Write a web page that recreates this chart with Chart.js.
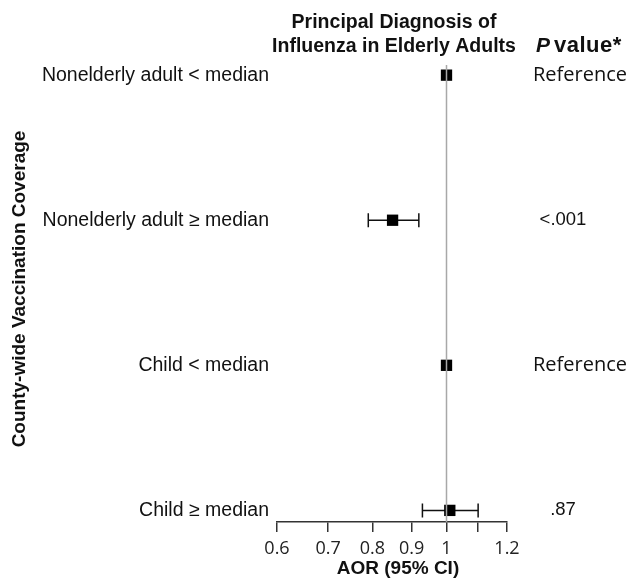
<!DOCTYPE html>
<html><head><meta charset="utf-8">
<script src="https://cdn.jsdelivr.net/npm/chart.js@4"></script>
<style>html,body{margin:0;padding:0;background:#fff}#wrap{width:636px;height:588px}</style>
</head><body><div id="wrap"><canvas id="c" width="636" height="588"></canvas></div>
<script>
const categories = ['Nonelderly adult < median','Nonelderly adult \u2265 median','Child < median','Child \u2265 median'];
const aor = [1.0, 0.85, 1.0, 1.01];
const ciLower = [null, 0.79, null, 0.93];
const ciUpper = [null, 0.92, null, 1.10];
const pValues = ['Reference','<.001','Reference','.87'];
const tickValues = [0.6,0.7,0.8,0.9,1,1.1,1.2];
const tickLabels = ['0.6','0.7','0.8','0.9','1','','1.2'];
const titleLines = ['Principal Diagnosis of','Influenza in Elderly Adults'];
const yTitle = 'County-wide Vaccination Coverage';
const xTitle = 'AOR (95% CI)';
const refValue = 1;

const SANS = '"Liberation Sans", Arial, sans-serif';
const OPEN = '"Open Sans", sans-serif';

const forestPlugin = {
  id: 'forest',
  beforeDatasetsDraw(chart) {
    const {ctx, scales:{x, y}} = chart;
    ctx.save();
    ctx.strokeStyle = '#111';
    ctx.lineWidth = 1.5;
    for (let i = 0; i < aor.length; i++) {
      if (ciLower[i] == null) continue;
      const py = y.getPixelForValue(i);
      const x1 = x.getPixelForValue(ciLower[i]);
      const x2 = x.getPixelForValue(ciUpper[i]);
      ctx.beginPath();
      ctx.moveTo(x1, py); ctx.lineTo(x2, py);
      ctx.moveTo(x1, py - 7); ctx.lineTo(x1, py + 7);
      ctx.moveTo(x2, py - 7); ctx.lineTo(x2, py + 7);
      ctx.stroke();
    }
    ctx.restore();
  },
  afterDatasetsDraw(chart) {
    const {ctx, chartArea, scales:{x}} = chart;
    const px = x.getPixelForValue(refValue);
    ctx.save();
    ctx.strokeStyle = '#a8a8a8';
    ctx.lineWidth = 1.5;
    ctx.beginPath();
    ctx.moveTo(px, chartArea.top); ctx.lineTo(px, chartArea.bottom);
    ctx.stroke();
    ctx.restore();
  },
  afterDraw(chart) {
    const {ctx, chartArea, scales:{y}} = chart;
    ctx.save();
    ctx.fillStyle = '#111';
    // title
    ctx.textAlign = 'center';
    ctx.textBaseline = 'alphabetic';
    ctx.font = 'bold 19.5px ' + SANS;
    const cx = (chartArea.left + chartArea.right) / 2 + 2;
    titleLines.forEach((t, i) => ctx.fillText(t, cx, 28 + i * 24));
    // P value header
    ctx.textAlign = 'left';
    ctx.font = 'italic bold 21px ' + SANS;
    ctx.fillText('P', 536, 52);
    ctx.font = 'bold 22px ' + SANS;
    ctx.letterSpacing = '0.5px';
    ctx.fillText('value*', 554, 52);
    ctx.letterSpacing = '0px';
    // x axis title
    ctx.textAlign = 'center';
    ctx.textBaseline = 'middle';
    ctx.font = 'bold 19px ' + SANS;
    ctx.fillText(xTitle, cx + 4, 569);
    // row labels
    ctx.textAlign = 'right';
    ctx.font = '19.5px ' + SANS;
    categories.forEach((c, i) => ctx.fillText(c, chartArea.left - 8, y.getPixelForValue(i)));
    // p values
    pValues.forEach((p, i) => {
      const py = y.getPixelForValue(i);
      if (p === 'Reference') {
        ctx.textAlign = 'left';
        ctx.font = '20px ' + OPEN;
        ctx.fillText(p, chartArea.right + 26, py);
      } else {
        ctx.textAlign = 'center';
        ctx.font = '18.5px ' + SANS;
        ctx.fillText(p, chartArea.right + 56, py);
      }
    });
    // y title
    ctx.translate(20, 289);
    ctx.rotate(-Math.PI / 2);
    ctx.textAlign = 'center';
    ctx.font = 'bold 19px ' + SANS;
    ctx.fillText(yTitle, 0, 0);
    ctx.restore();
  }
};

new Chart(document.getElementById('c'), {
  type: 'scatter',
  data: {
    datasets: [{
      label: 'AOR',
      data: aor.map((v, i) => ({x: v, y: i})),
      pointStyle: 'rect',
      pointRadius: 8,
      pointHoverRadius: 8,
      backgroundColor: '#000',
      borderColor: '#000',
      borderWidth: 0
    }]
  },
  options: {
    responsive: false,
    animation: false,
    events: [],
    layout: {padding: {left: 277, right: 129, top: 65, bottom: 22.4}},
    plugins: {legend: {display: false}, tooltip: {enabled: false}},
    scales: {
      x: {
        type: 'logarithmic',
        min: 0.6, max: 1.2,
        afterBuildTicks: s => { s.ticks = tickValues.map(v => ({value: v})); },
        ticks: {
          callback: (v, i) => tickLabels[i],
          font: {family: OPEN, size: 18},
          color: '#222', padding: 6, autoSkip: false, maxRotation: 0
        },
        grid: {drawOnChartArea: false, drawTicks: true, tickLength: 10, color: '#333', lineWidth: 1.5},
        border: {display: true, color: '#333', width: 1.5},
        title: {display: false, text: xTitle}
      },
      y: {type: 'linear', min: -0.07, max: 3.08, reverse: true, display: false}
    }
  },
  plugins: [forestPlugin]
});
</script></body></html>
